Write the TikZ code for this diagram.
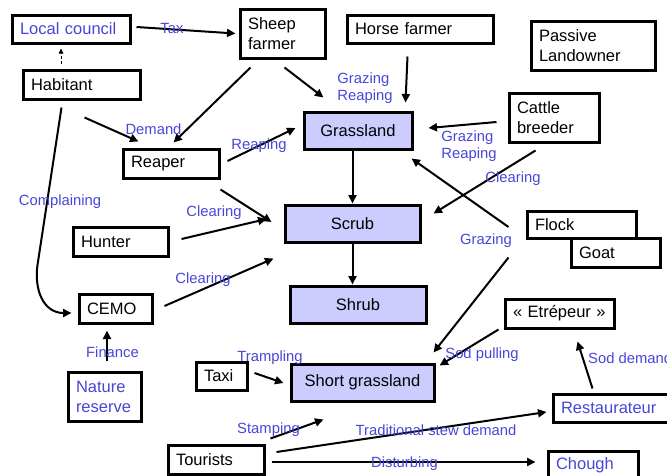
\documentclass[tikz,border=0pt]{standalone}
\usepackage{fontspec}
\setmainfont{Liberation Sans}
\usetikzlibrary{arrows.meta,calc}
\definecolor{lblue}{RGB}{70,70,215}
\definecolor{lpurple}{RGB}{204,204,255}
\begin{document}
\begin{tikzpicture}[x=1pt,y=-1pt,
  box/.style={draw,line width=3pt,fill=white,font=\fontsize{16.5}{20}\selectfont,inner xsep=8pt,inner ysep=0pt,align=left},
  pbox/.style={draw,line width=3pt,fill=lpurple,font=\fontsize{16.5}{20}\selectfont,inner sep=0pt,align=center},
  lbl/.style={text=lblue,font=\fontsize{14.8}{17}\selectfont,inner sep=0pt,align=left},
  arr/.style={line width=2pt,-{Triangle[length=8.5pt,width=8pt]}},
  thinarr/.style={line width=0.8pt,dash pattern=on 3pt off 2pt,-{Triangle[length=5pt,width=4.5pt]}}
]
\useasboundingbox (0,0) rectangle (667,475);
\clip (0,0) rectangle (667,475);

% nodes
\node[box,text width=102pt,minimum height=28pt,text=lblue] (lc) at (71,29) {Local council};
\node[box,text width=69pt,minimum height=49pt] (sf) at (282.5,33.5) {Sheep\\farmer};
\node[box,text width=101pt,minimum height=29pt] (hab) at (81.5,84.5) {Habitant};
\node[box,text width=80pt,minimum height=29pt] (rp) at (171,163.5) {Reaper};
\node[box,text width=130pt,minimum height=28pt] (hf) at (420,29) {Horse farmer};
\node[box,text width=108pt,minimum height=49pt] (pl) at (593,45.5) {Passive\\Landowner};
\node[box,text width=74pt,minimum height=49pt] (cb) at (554,117.5) {Cattle\\breeder};
\node[box,text width=79pt,minimum height=29pt] (hu) at (120.5,241.5) {Hunter};
\node[box,text width=57pt,minimum height=29pt] (cemo) at (115.5,308.5) {CEMO};
\node[box,text width=57pt,minimum height=49pt,text=lblue] (nr) at (104.5,396.5) {Nature\\reserve};
\node[box,text width=35pt,minimum height=28pt] (taxi) at (221.5,376) {Taxi};
\node[box,text width=80pt,minimum height=29pt] (tour) at (216,459.5) {Tourists};
\node[box,text width=93pt,minimum height=27pt] (flock) at (581.5,224.5) {Flock};
\node[box,text width=73pt,minimum height=29pt] (goat) at (615.5,252.5) {Goat};
\node[box,text width=93pt,minimum height=29pt] (etr) at (559.5,313.5) {« Etrépeur »};
\node[box,text width=109pt,minimum height=28pt,text=lblue] (rest) at (615.5,408) {Restaurateur};
\node[box,text width=74pt,minimum height=28pt,text=lblue] (chough) at (593,465) {Chough};

\node[pbox,minimum width=108pt,minimum height=37pt] (gl) at (358,130.5) {Grassland};
\node[pbox,minimum width=135pt,minimum height=37pt] (scrub) at (352.5,223.5) {Scrub};
\node[pbox,minimum width=136pt,minimum height=37pt] (shrub) at (358,304.5) {Shrub};
\node[pbox,minimum width=143pt,minimum height=37pt] (sg) at (362.5,382.5) {Short grassland};

% connectors
\draw[arr] ($(lc.east)+(5,-2)$) -- ($(sf.west)+(-3,0)$);
\draw[thinarr] ($(hab.north west)+(39.5,-5)$) -- ($(lc.south west)+(50.5,4)$);
\draw[arr] ($(sf.south west)+(12,8)$) -- ($(rp.north west)+(52,-5)$);
\draw[arr] ($(sf.south west)+(46,8)$) -- ($(gl.north west)+(21,-13)$);
\draw[arr] ($(hab.south west)+(63,17)$) -- ($(rp.north west)+(17,-6)$);
\draw[arr] ($(rp.east)+(7,-2.5)$) -- ($(gl.west)+(-7,-2.5)$);
\draw[arr] ($(hf.south west)+(62,12)$) -- ($(gl.north east)+(-8,-8)$);
\draw[arr] ($(cb.west)+(-11,4.5)$) -- ($(gl.east)+(15,-2.5)$);
\draw[arr] ($(cb.south west)+(28,7)$) -- ($(scrub.north east)+(12,10)$);
\draw[arr] ($(flock.west)+(-17,2.5)$) -- ($(gl.south east)+(-2,8)$);
\draw[arr] ($(flock.south west)+(-17,18)$) -- ($(sg.north east)+(-2,-10)$);
\draw[arr] (gl.south -| scrub.north) -- (scrub.north);
\draw[arr] (scrub.south) -- (scrub.south |- shrub.north);
\draw[arr] ($(rp.south east)+(0,10)$) -- ($(scrub.west)+(-12,-1.5)$);
\draw[arr] ($(hu.east)+(12,-2.5)$) -- ($(scrub.west)+(-17,-4.5)$);
\draw[arr] ($(cemo.east)+(11,-2.5)$) -- ($(scrub.south west)+(-10,15)$);
\draw[arr] ($(hab.south west)+(40,7)$) -- ($(cemo.west)+(-40,-43.5)$)
  .. controls ($(cemo.west)+(-43.5,-18.5)$) and ($(cemo.west)+(-34,4.5)$) .. ($(cemo.west)+(-6,4.5)$);
\draw[arr] ($(nr.north)+(2.5,-10)$) -- ($(cemo.south)+(-8.5,6)$);
\draw[arr] ($(taxi.east)+(6,-3)$) -- ($(sg.west)+(-6,0.5)$);
\draw[arr] ($(etr.south west)+(-5,0)$) -- ($(sg.north east)+(4,3)$);
\draw[arr] ($(rest.north west)+(41,-4)$) -- ($(etr.south west)+(74,12)$);
\draw[arr] ($(tour.north east)+(5,-5)$) -- ($(sg.south west)+(34,17)$);
\draw[arr] ($(tour.east)+(11,-7.5)$) -- ($(rest.west)+(-5,4)$);
\draw[arr] ($(tour.east)+(6,2.5)$) -- ($(chough.west)+(-11,-3)$);

% labels
\node[lbl] (tax) at (172,28) {Tax};
\node[lbl] (demand) at (153.5,129) {Demand};
\node[lbl] (reap1) at (259,146) {Reaping};
\node[lbl] (gr1) at (365,88.5) {Grazing\\Reaping};
\node[lbl] (gr2) at (469,146.5) {Grazing\\Reaping};
\node[lbl] (cl1) at (513,179) {Clearing};
\node[lbl] (gz3) at (486,241) {Grazing};
\node[lbl] (cl2) at (214,213) {Clearing};
\node[lbl] (cl3) at (203,280) {Clearing};
\node[lbl] (compl) at (60,202) {Complaining};
\node[lbl] (fin) at (112.5,352) {Finance};
\node[lbl] (tramp) at (270,358) {Trampling};
\node[lbl] (sodp) at (482,355) {Sod pulling};
\node[lbl,anchor=west] (sodd) at (588,358) {Sod demand};
\node[lbl] (stamp) at (268.5,430) {Stamping};
\node[lbl] (stew) at (436,430) {Traditional stew demand};
\node[lbl] (dist) at (404.5,464) {Disturbing};
\end{tikzpicture}
\end{document}
